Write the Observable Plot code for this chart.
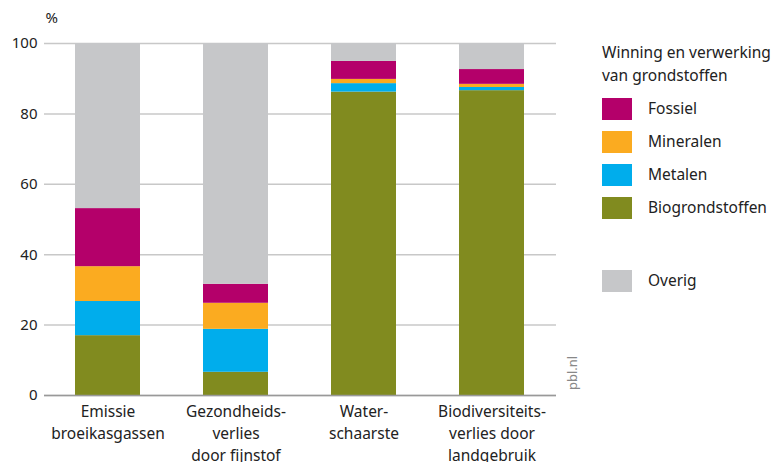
<!DOCTYPE html>
<html>
<head>
<meta charset="utf-8">
<script src="https://cdn.jsdelivr.net/npm/d3@7"></script>
<script src="https://cdn.jsdelivr.net/npm/@observablehq/plot@0.6"></script>
<style>
  html, body { margin: 0; padding: 0; background: #fff; }
  #chart { position: relative; width: 780px; height: 462px; overflow: hidden; }
  svg { font-family: "Noto Sans", sans-serif; }
</style>
</head>
<body>
<div id="chart"></div>
<script>
const categories = [
  "Emissie\nbroeikasgassen",
  "Gezondheids-\nverlies\ndoor fijnstof",
  "Water-\nschaarste",
  "Biodiversiteits-\nverlies door\nlandgebruik"
];
const seriesNames = ["Biogrondstoffen", "Metalen", "Mineralen", "Fossiel", "Overig"];
const biogrondstoffen = [17.0, 6.6, 86.2, 86.6];
const metalen = [9.7, 12.2, 2.4, 0.9];
const mineralen = [9.9, 7.4, 1.2, 0.9];
const fossiel = [16.5, 5.4, 5.1, 4.2];
const overig = [46.9, 68.4, 5.1, 7.4];
const colors = ["#818b1f", "#00adec", "#fbab20", "#b4006a", "#c6c7c9"];
const yTicks = [0, 20, 40, 60, 80, 100];
const legendTitle = ["Winning en verwerking", "van grondstoffen"];
const legendItems = ["Fossiel", "Mineralen", "Metalen", "Biogrondstoffen"];
const legendOther = "Overig";

const seriesValues = [biogrondstoffen, metalen, mineralen, fossiel, overig];
const data = [];
seriesNames.forEach((s, i) => {
  categories.forEach((c, j) => data.push({category: c, series: s, value: seriesValues[i][j]}));
});

const plot = Plot.plot({
  width: 780,
  height: 462,
  marginLeft: 44,
  marginRight: 224,
  marginTop: 43,
  marginBottom: 67,
  style: {fontFamily: "Noto Sans, sans-serif", fontSize: "15px", color: "#222"},
  x: {domain: categories, paddingInner: 0.49, paddingOuter: 0.245, label: null},
  y: {domain: [0, 100], label: null},
  color: {domain: seriesNames, range: colors},
  marks: [
    Plot.gridY(yTicks, {stroke: "#c8c8c8", strokeOpacity: 1, strokeWidth: 1.5}),
    Plot.barY(data, {x: "category", y: "value", fill: "series", order: seriesNames}),
    Plot.ruleY([0], {stroke: "#999", strokeWidth: 1.5}),
    Plot.axisY(yTicks, {tickSize: 0, tickPadding: 7, fontSize: 15, fill: "#222", label: null}),
    Plot.axisX({tickSize: 0, tickPadding: 6, fontSize: 15.5, fill: "#222", lineHeight: 1.42, label: null}),
    Plot.text(["%"], {frameAnchor: "top-left", dx: 1, dy: -31, fontSize: 15, fill: "#222", textAnchor: "start"})
  ]
});
document.getElementById("chart").appendChild(plot);

// legend and credit
const svg = d3.select(plot);
const g = svg.append("g")
  .attr("font-family", "Noto Sans, sans-serif")
  .attr("font-size", 15.5)
  .attr("fill", "#222")
  .attr("text-anchor", "start");
legendTitle.forEach((t, i) => {
  g.append("text").attr("x", 602).attr("y", 58 + i * 23).text(t);
});
const colorOf = s => colors[seriesNames.indexOf(s)];
legendItems.forEach((s, i) => {
  const y = 98 + i * 33;
  g.append("rect").attr("x", 602).attr("y", y).attr("width", 30).attr("height", 22).attr("fill", colorOf(s));
  g.append("text").attr("x", 648).attr("y", y + 16).text(s);
});
g.append("rect").attr("x", 602).attr("y", 270).attr("width", 30).attr("height", 22).attr("fill", colorOf(legendOther));
g.append("text").attr("x", 648).attr("y", 286).text(legendOther);
svg.append("text").attr("transform", "translate(577,390) rotate(-90)")
  .attr("text-anchor", "start")
  .attr("font-family", "Noto Sans, sans-serif").attr("font-size", 13).attr("fill", "#888").text("pbl.nl");
</script>
</body>
</html>
